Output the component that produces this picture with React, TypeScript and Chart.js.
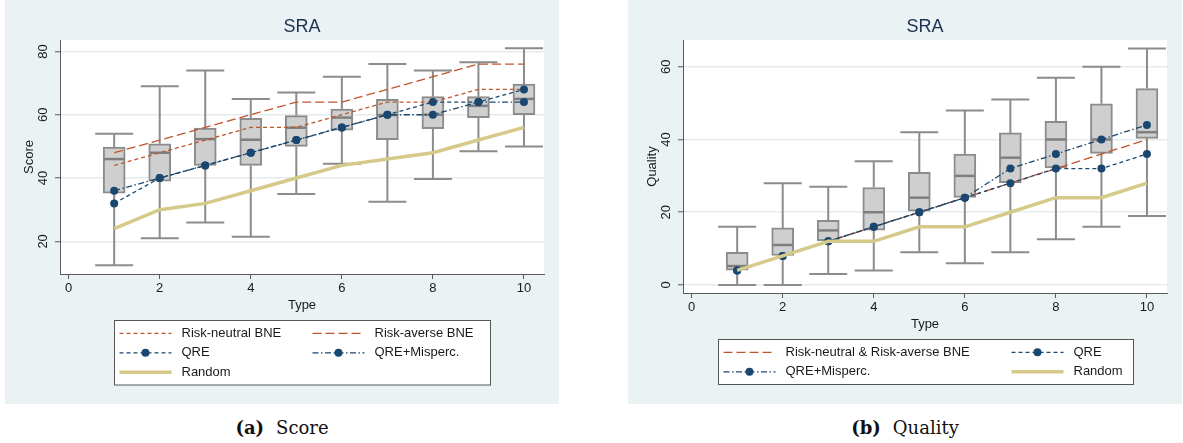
import React, { useEffect, useRef } from 'react';
import { Chart, registerables } from 'chart.js';

Chart.register(...registerables);

// ---------- data ----------
const types = [1, 2, 3, 4, 5, 6, 7, 8, 9, 10];
const xTicks = [0, 2, 4, 6, 8, 10];

// (a) Score
const scoreTicks = [20, 40, 60, 80];
const scoreWhiskerLow = [12.5, 21, 26, 21.5, 35, 44.5, 32.5, 39.7, 48.5, 50];
const scoreQ1 = [35.2, 39, 44, 44, 50, 55.1, 52.1, 55.6, 59.1, 60];
const scoreMedian = [46, 48, 52.3, 52.1, 55.9, 59.1, 59.9, 60, 62.8, 65];
const scoreQ3 = [49.8, 50.8, 55.8, 58.9, 59.7, 61.8, 64.9, 65.7, 65.7, 69.7];
const scoreWhiskerHigh = [54, 69, 74, 65, 67, 72, 76, 74, 76.6, 81];
const scoreRiskNeutral = [44, 48, 52, 56, 56, 60, 64, 64, 68, 68];
const scoreRiskAverse = [48, 52, 56, 60, 64, 64, 68, 72, 76, 76];
const scoreQRE = [32, 40, 44, 48, 52, 56, 60, 64, 64, 68];
const scoreQREMisperc = [36, 40, 44, 48, 52, 56, 60, 60, 64, 64];
const scoreRandom = [24, 30, 32, 36, 40, 44, 46, 48, 52, 56];

// (b) Quality
const qualityTicks = [0, 20, 40, 60];
const qualityWhiskerLow = [0, 0, 3, 4, 9, 6, 9, 12.6, 16, 19];
const qualityQ1 = [4.1, 8.1, 12.2, 15.1, 20.3, 24.1, 28.1, 32.2, 36.2, 40.3];
const qualityMedian = [5.2, 11, 15, 20, 24, 30, 35, 40, 40, 42];
const qualityQ3 = [9, 15.7, 17.8, 26.8, 31, 36, 41.8, 45, 49.8, 54];
const qualityWhiskerHigh = [16, 28, 27, 34, 42, 48, 51, 57, 60, 65];
const qualityBNE = [4, 8, 12, 16, 20, 24, 28, 32, 36, 40];
const qualityQRE = [4, 8, 12, 16, 20, 24, 28, 32, 32, 36];
const qualityQREMisperc = [4, 8, 12, 16, 20, 24, 32, 36, 40, 44];
const qualityRandom = [4, 8, 12, 12, 16, 16, 20, 24, 24, 28];

// ---------- styles ----------
const FONT = '"Liberation Sans", Arial, Helvetica, sans-serif';
const BG = '#eaf2f3';
const NAVY = '#1a476f';
const ORANGE = '#c0542d';
const KHAKI = '#d6ca8a';
const BOX_FILL = '#cfcfcf';
const BOX_LINE = '#8c8c8c';
const AXIS = '#5a5a5a';
const GRID = '#e3ecee';
const TEXT = '#1a1a1a';

type LineStyle = {
  color: string;
  width: number;
  dash: number[];
  marker: boolean;
  order: number;
};

const SHORT_DASH: LineStyle = { color: ORANGE, width: 1.3, dash: [4, 3], marker: false, order: 4 };
const LONG_DASH: LineStyle = { color: ORANGE, width: 1.3, dash: [9, 4], marker: false, order: 3 };
const QRE_STYLE: LineStyle = { color: NAVY, width: 1.3, dash: [4, 3], marker: true, order: 2 };
const QREM_STYLE: LineStyle = { color: NAVY, width: 1.3, dash: [6, 2.5, 1.5, 2.5], marker: true, order: 1 };
const RANDOM_STYLE: LineStyle = { color: KHAKI, width: 3.5, dash: [], marker: false, order: 0 };

type Series = { label: string; values: number[]; style: LineStyle };

type PanelSpec = {
  yTitle: string;
  yTicks: number[];
  yMin: number;
  yMax: number;
  low: number[];
  q1: number[];
  med: number[];
  q3: number[];
  high: number[];
  series: Series[];
  legendOrder: number[][]; // rows of series indices
  xAxisHeight: number;
  legendWidth: number;
  legendCol2: number;
};

const scoreSpec: PanelSpec = {
  yTitle: 'Score',
  yTicks: scoreTicks,
  yMin: 9.7,
  yMax: 83.6,
  low: scoreWhiskerLow,
  q1: scoreQ1,
  med: scoreMedian,
  q3: scoreQ3,
  high: scoreWhiskerHigh,
  series: [
    { label: 'Risk-neutral BNE', values: scoreRiskNeutral, style: SHORT_DASH },
    { label: 'Risk-averse BNE', values: scoreRiskAverse, style: LONG_DASH },
    { label: 'QRE', values: scoreQRE, style: QRE_STYLE },
    { label: 'QRE+Misperc.', values: scoreQREMisperc, style: QREM_STYLE },
    { label: 'Random', values: scoreRandom, style: RANDOM_STYLE },
  ],
  legendOrder: [[0, 1], [2, 3], [4]],
  xAxisHeight: 130,
  legendWidth: 376,
  legendCol2: 198,
};

const qualitySpec: PanelSpec = {
  yTitle: 'Quality',
  yTicks: qualityTicks,
  yMin: -2.2,
  yMax: 67.35,
  low: qualityWhiskerLow,
  q1: qualityQ1,
  med: qualityMedian,
  q3: qualityQ3,
  high: qualityWhiskerHigh,
  series: [
    { label: 'Risk-neutral & Risk-averse BNE', values: qualityBNE, style: LONG_DASH },
    { label: 'QRE', values: qualityQRE, style: QRE_STYLE },
    { label: 'QRE+Misperc.', values: qualityQREMisperc, style: QREM_STYLE },
    { label: 'Random', values: qualityRandom, style: RANDOM_STYLE },
  ],
  legendOrder: [[0, 1], [2, 3]],
  xAxisHeight: 111,
  legendWidth: 415,
  legendCol2: 293,
};

const CANVAS_W = 554;
const CANVAS_H = 404;

function makePlugin(spec: PanelSpec) {
  return {
    id: 'panelDecor',
    beforeDraw(chart: any) {
      const { ctx, chartArea: a } = chart;
      ctx.save();
      ctx.fillStyle = '#ffffff';
      ctx.fillRect(a.left, a.top, a.right - a.left, a.bottom - a.top);
      ctx.restore();
    },
    beforeDatasetsDraw(chart: any) {
      const { ctx } = chart;
      const xs = chart.scales.x;
      const ys = chart.scales.y;
      ctx.save();
      ctx.strokeStyle = BOX_LINE;
      ctx.lineWidth = 2;
      const capHalf = 19;
      types.forEach((t, i) => {
        const x = xs.getPixelForValue(t);
        const yHigh = ys.getPixelForValue(spec.high[i]);
        const yLow = ys.getPixelForValue(spec.low[i]);
        const yQ1 = ys.getPixelForValue(spec.q1[i]);
        const yQ3 = ys.getPixelForValue(spec.q3[i]);
        ctx.beginPath();
        ctx.moveTo(x, yHigh);
        ctx.lineTo(x, yQ3);
        ctx.moveTo(x, yQ1);
        ctx.lineTo(x, yLow);
        ctx.moveTo(x - capHalf, yHigh);
        ctx.lineTo(x + capHalf, yHigh);
        ctx.moveTo(x - capHalf, yLow);
        ctx.lineTo(x + capHalf, yLow);
        ctx.stroke();
      });
      ctx.restore();
    },
    afterDatasetDraw(chart: any, args: any) {
      if (args.index !== 0) return;
      const { ctx } = chart;
      const xs = chart.scales.x;
      const ys = chart.scales.y;
      ctx.save();
      ctx.strokeStyle = '#7f7f7f';
      ctx.lineWidth = 2.5;
      types.forEach((t, i) => {
        const x = xs.getPixelForValue(t);
        const y = ys.getPixelForValue(spec.med[i]);
        ctx.beginPath();
        ctx.moveTo(x - 10, y);
        ctx.lineTo(x + 10, y);
        ctx.stroke();
      });
      ctx.restore();
    },
    afterDraw(chart: any) {
      const { ctx, chartArea: a } = chart;
      const ys = chart.scales.y;
      const cx = (a.left + a.right) / 2;
      ctx.save();
      // title
      ctx.fillStyle = '#1c3150';
      ctx.font = `18px ${FONT}`;
      ctx.textAlign = 'center';
      ctx.textBaseline = 'middle';
      ctx.fillText('SRA', cx, 27);

      // rotated y tick labels
      ctx.fillStyle = TEXT;
      ctx.font = `13px ${FONT}`;
      spec.yTicks.forEach((v) => {
        const y = ys.getPixelForValue(v);
        ctx.save();
        ctx.translate(a.left - 16.5, y);
        ctx.rotate(-Math.PI / 2);
        ctx.fillText(String(v), 0, 0);
        ctx.restore();
      });
      // y title
      ctx.save();
      ctx.translate(a.left - 31, (a.top + a.bottom) / 2);
      ctx.rotate(-Math.PI / 2);
      ctx.fillText(spec.yTitle, 0, 0);
      ctx.restore();
      // x title
      ctx.fillText('Type', cx, a.bottom + 31.5);

      // legend
      const rows = spec.legendOrder.length;
      const top = a.bottom + 46;
      const h = rows * 19.5 + 6;
      const bx = Math.round(cx - spec.legendWidth / 2) + 0.5;
      const by = Math.round(top) + 0.5;
      ctx.fillStyle = '#ffffff';
      ctx.fillRect(bx, by, spec.legendWidth, h);
      ctx.strokeStyle = '#555555';
      ctx.lineWidth = 1;
      ctx.strokeRect(bx, by, spec.legendWidth, h);
      spec.legendOrder.forEach((row, r) => {
        const y = top + 13.3 + r * 19.5;
        row.forEach((si, c) => {
          const s = spec.series[si];
          const sx = bx + (c === 0 ? 5 : spec.legendCol2);
          ctx.save();
          ctx.strokeStyle = s.style.color;
          ctx.lineWidth = s.style.width;
          ctx.setLineDash(s.style.dash);
          ctx.beginPath();
          ctx.moveTo(sx, y);
          ctx.lineTo(sx + 52, y);
          ctx.stroke();
          if (s.style.marker) {
            ctx.setLineDash([]);
            ctx.fillStyle = s.style.color;
            ctx.beginPath();
            ctx.arc(sx + 26, y, 4, 0, Math.PI * 2);
            ctx.fill();
          }
          ctx.restore();
          ctx.fillStyle = TEXT;
          ctx.textAlign = 'left';
          ctx.textBaseline = 'middle';
          ctx.font = `13px ${FONT}`;
          ctx.fillText(s.label, sx + 62, y);
        });
      });
      ctx.restore();
    },
  };
}

function buildConfig(spec: PanelSpec): any {
  const boxData = types.map((t, i) => ({ x: t, y: [spec.q1[i], spec.q3[i]] }));
  const lineSets = spec.series.map((s) => ({
    type: 'line',
    label: s.label,
    data: types.map((t, i) => ({ x: t, y: s.values[i] })),
    borderColor: s.style.color,
    backgroundColor: s.style.color,
    borderWidth: s.style.width,
    borderDash: s.style.dash,
    pointRadius: s.style.marker ? 4 : 0,
    pointHoverRadius: 0,
    pointBackgroundColor: s.style.color,
    pointBorderWidth: 0,
    fill: false,
    tension: 0,
    order: s.style.order,
  }));
  return {
    type: 'bar',
    data: {
      datasets: [
        {
          type: 'bar',
          label: 'box',
          data: boxData,
          backgroundColor: BOX_FILL,
          borderColor: BOX_LINE,
          borderWidth: 2,
          borderSkipped: false,
          barThickness: 22,
          grouped: false,
          order: 10,
        },
        ...lineSets,
      ],
    },
    options: {
      responsive: false,
      maintainAspectRatio: false,
      animation: false,
      devicePixelRatio: 1,
      events: [],
      layout: { padding: { left: 0, top: 40, right: 15, bottom: 0 } },
      plugins: {
        legend: { display: false },
        tooltip: { enabled: false },
        title: { display: false },
      },
      scales: {
        x: {
          type: 'linear',
          min: -0.19,
          max: 10.44,
          offset: false,
          afterBuildTicks: (scale: any) => {
            scale.ticks = xTicks.map((v) => ({ value: v }));
          },
          afterFit: (scale: any) => {
            scale.height = spec.xAxisHeight;
          },
          grid: {
            offset: false,
            drawOnChartArea: false,
            drawTicks: true,
            tickLength: 5,
            tickColor: AXIS,
            tickWidth: 1,
          },
          border: { display: true, color: AXIS, width: 1 },
          ticks: {
            autoSkip: false,
            maxRotation: 0,
            padding: 2,
            color: TEXT,
            font: { family: FONT, size: 13 },
          },
        },
        y: {
          type: 'linear',
          min: spec.yMin,
          max: spec.yMax,
          afterBuildTicks: (scale: any) => {
            scale.ticks = spec.yTicks.map((v) => ({ value: v }));
          },
          afterFit: (scale: any) => {
            scale.width = 55;
          },
          grid: {
            color: GRID,
            lineWidth: 1.5,
            drawTicks: true,
            tickLength: 5,
            tickColor: AXIS,
            tickWidth: 1,
          },
          border: { display: true, color: AXIS, width: 1 },
          ticks: {
            color: 'rgba(0,0,0,0)',
            font: { family: FONT, size: 13 },
          },
        },
      },
    },
    plugins: [makePlugin(spec)],
  };
}

function Panel({ spec, left }: { spec: PanelSpec; left: number }) {
  const ref = useRef<HTMLCanvasElement>(null);
  useEffect(() => {
    const chart = new Chart(ref.current as HTMLCanvasElement, buildConfig(spec));
    return () => chart.destroy();
  }, [spec]);
  return (
    <div
      style={{
        position: 'absolute',
        left,
        top: 0,
        width: CANVAS_W,
        height: CANVAS_H,
        background: BG,
      }}
    >
      <canvas
        ref={ref}
        width={CANVAS_W}
        height={CANVAS_H}
        style={{ display: 'block', width: CANVAS_W, height: CANVAS_H }}
      />
    </div>
  );
}

function Caption({ left, tag, text }: { left: number; tag: string; text: string }) {
  return (
    <div
      style={{
        position: 'absolute',
        left,
        top: 416,
        width: CANVAS_W,
        height: 24,
        lineHeight: '24px',
        textAlign: 'center',
        fontFamily: '"DejaVu Serif", "Liberation Serif", serif',
        fontSize: 18,
        color: '#111',
      }}
    >
      <span style={{ fontWeight: 'bold' }}>{tag}</span>
      <span style={{ marginLeft: 12 }}>{text}</span>
    </div>
  );
}

export default function App() {
  return (
    <div
      style={{
        position: 'absolute',
        left: 0,
        top: 0,
        width: 1183,
        height: 443,
        background: '#ffffff',
        overflow: 'hidden',
      }}
    >
      <Panel spec={scoreSpec} left={5} />
      <Panel spec={qualitySpec} left={628} />
      <Caption left={5} tag="(a)" text="Score" />
      <Caption left={628} tag="(b)" text="Quality" />
    </div>
  );
}
